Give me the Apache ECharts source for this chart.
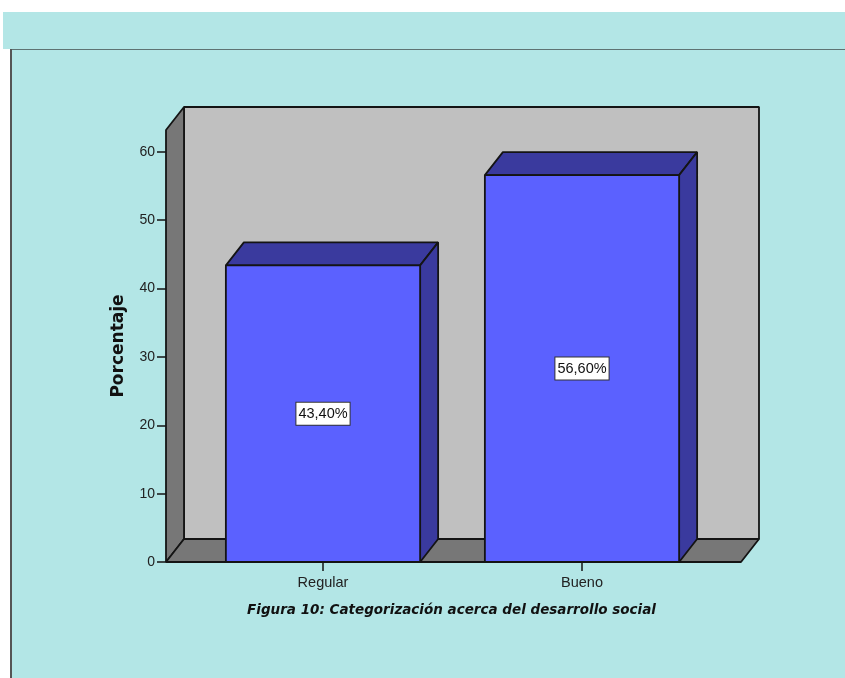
<!DOCTYPE html>
<html>
<head>
<meta charset="utf-8">
<style>html,body{margin:0;padding:0;background:#fff}#c{width:845px;height:678px}</style>
<script src="https://cdn.jsdelivr.net/npm/echarts@6/dist/echarts.min.js"></script>
</head>
<body>
<div id="c"></div>
<script>
var categories = ['Regular', 'Bueno'];
var values = [43.4, 56.6];
var valueLabels = ['43,40%', '56,60%'];
var yTicks = [0, 10, 20, 30, 40, 50, 60];
var yMax = 63.2;
var titleText = 'Figura 10: Categorización acerca del desarrollo social';
var yName = 'Porcentaje';

var DX = 18, DY = -23, BAR_RATIO = 0.75, PAD_L = 27.5, PAD_R = 29.5;
var LINE = '#141414';
var lw = 1.8;

function poly(pts, fill) {
  return {type: 'polygon', shape: {points: pts}, style: {fill: fill, stroke: LINE, lineWidth: lw, lineJoin: 'bevel'}};
}

function renderFrame(params, api) {
  var band = api.size([1, 0])[0];
  var o = api.coord([0, 0]);
  var top = api.coord([0, yMax])[1];
  var x0 = o[0] - band / 2 - PAD_L;
  var x1 = api.coord([1, 0])[0] + band / 2 + PAD_R;
  var y0 = o[1];
  return {type: 'group', children: [
    poly([[x0 + DX, top + DY], [x1 + DX, top + DY], [x1 + DX, y0 + DY], [x0 + DX, y0 + DY]], '#c0c0c0'),
    poly([[x0, top], [x0 + DX, top + DY], [x0 + DX, y0 + DY], [x0, y0]], '#777777'),
    poly([[x0, y0], [x0 + DX, y0 + DY], [x1 + DX, y0 + DY], [x1, y0]], '#777777')
  ]};
}

function renderBar(params, api) {
  var idx = api.value(0), v = api.value(1);
  var w = api.size([1, 0])[0] * BAR_RATIO;
  var t = api.coord([idx, v]);
  var b = api.coord([idx, 0]);
  var l = t[0] - w / 2, r = t[0] + w / 2;
  return {type: 'group', children: [
    poly([[l, t[1]], [l + DX, t[1] + DY], [r + DX, t[1] + DY], [r, t[1]]], '#3a3a9e'),
    poly([[r, t[1]], [r + DX, t[1] + DY], [r + DX, b[1] + DY], [r, b[1]]], '#3a3a9e'),
    poly([[l, t[1]], [r, t[1]], [r, b[1]], [l, b[1]]], '#5b61ff'),
    {type: 'text', x: t[0], y: (t[1] + b[1]) / 2, style: {
      text: valueLabels[idx], fill: '#111', font: '14.5px "Liberation Sans", Arial, sans-serif',
      align: 'center', verticalAlign: 'middle',
      backgroundColor: '#fff', borderColor: '#333', borderWidth: 1, padding: [4, 2, 3, 2]
    }}
  ]};
}

var chart = echarts.init(document.getElementById('c'), null, {renderer: 'canvas'});
chart.setOption({
  animation: false,
  backgroundColor: '#fff',
  graphic: [
    {type: 'rect', z: -10, shape: {x: 11, y: 49, width: 834, height: 629}, style: {fill: '#b3e6e6'}},
    {type: 'rect', z: -10, shape: {x: 3, y: 12, width: 842, height: 37}, style: {fill: '#b3e6e6'}},
    {type: 'line', z: -9, shape: {x1: 11, y1: 49.5, x2: 845, y2: 49.5}, style: {stroke: '#5f7373', lineWidth: 1}},
    {type: 'line', z: -9, shape: {x1: 11, y1: 49, x2: 11, y2: 678}, style: {stroke: '#555', lineWidth: 2}}
  ],
  title: {
    text: titleText, left: 446.5, top: 598, textAlign: 'center',
    textStyle: {fontFamily: 'DejaVu Sans', fontSize: 13.5, fontWeight: 'bold', fontStyle: 'italic', color: '#111'}
  },
  grid: {left: 193.5, width: 518, top: 130, height: 432, containLabel: false},
  xAxis: {
    type: 'category', data: categories,
    axisLine: {show: false},
    axisTick: {show: true, alignWithLabel: true, length: 9, lineStyle: {color: LINE, width: 1.5}},
    axisLabel: {fontFamily: 'Liberation Sans', fontSize: 14.5, color: '#222', margin: 13},
    z: 5
  },
  yAxis: {
    type: 'value', min: 0, max: yMax, offset: 27.5,
    name: yName, nameLocation: 'middle', nameGap: 39,
    nameTextStyle: {fontFamily: 'DejaVu Sans', fontSize: 17, fontWeight: 'bold', color: '#111'},
    axisLine: {show: false},
    axisTick: {show: true, length: 9, customValues: yTicks, lineStyle: {color: LINE, width: 1.5}},
    axisLabel: {fontFamily: 'Liberation Sans', fontSize: 14, color: '#222', margin: 11, customValues: yTicks},
    splitLine: {show: false}
  },
  series: [
    {type: 'custom', renderItem: renderFrame, data: [[0, 0]], clip: false, silent: true, z: 1},
    {type: 'custom', renderItem: renderBar, clip: false, silent: true, z: 2,
     data: values.map(function (v, i) { return [i, v]; })}
  ]
});
</script>
</body>
</html>
